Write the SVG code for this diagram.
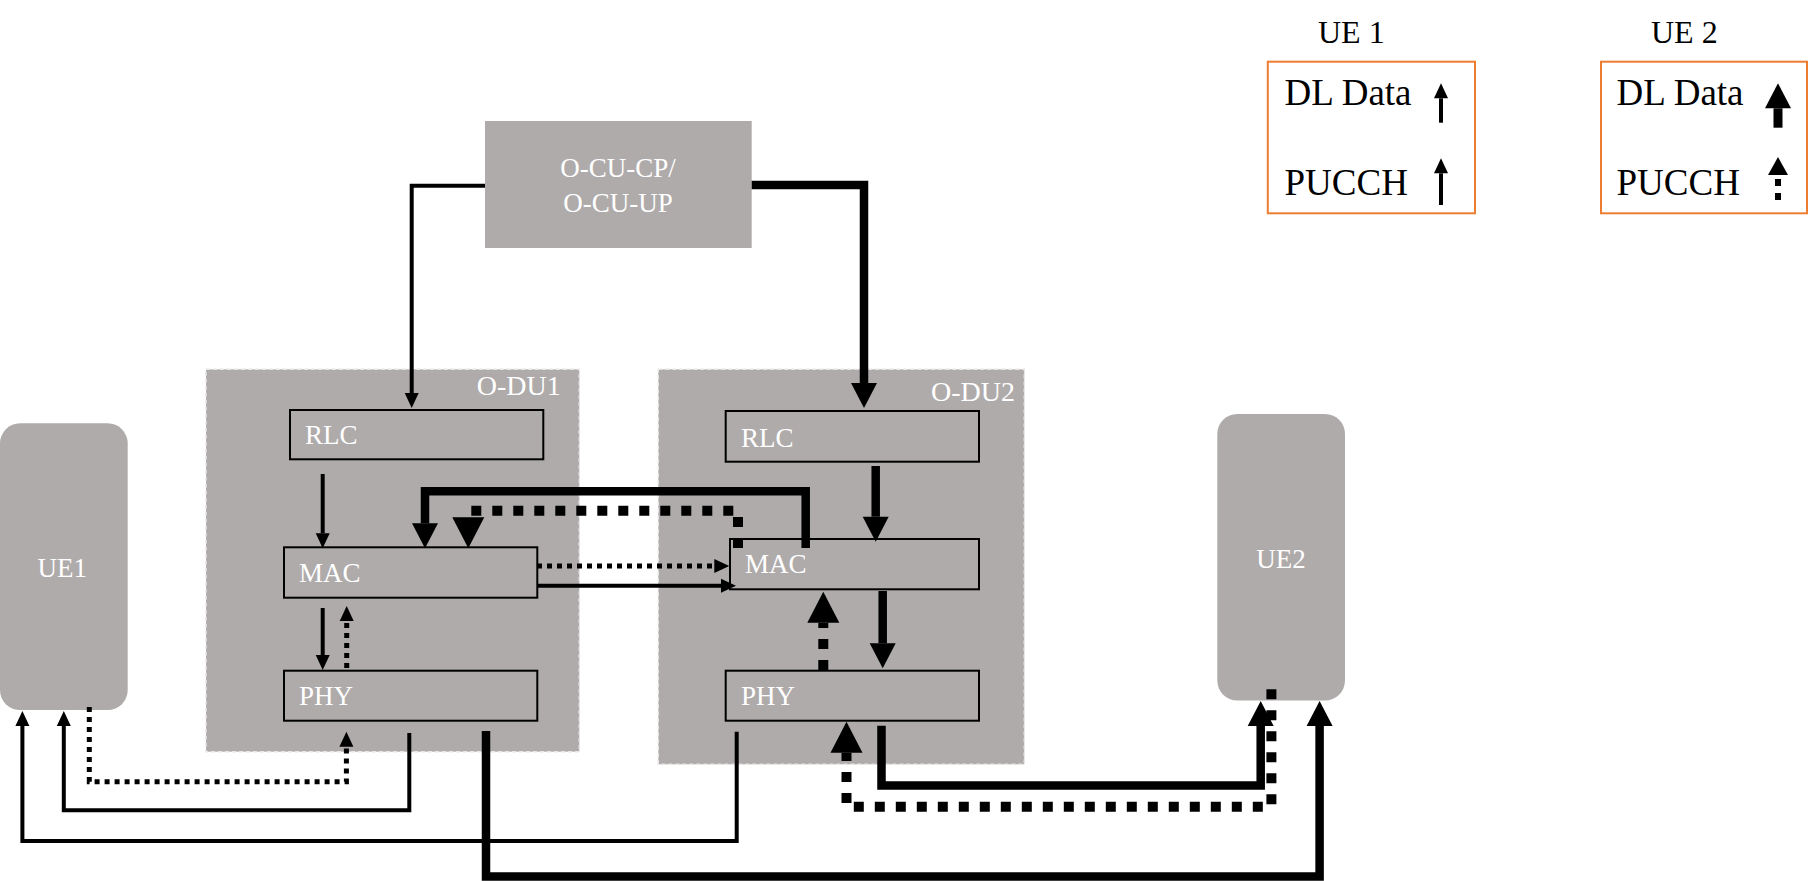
<svg xmlns="http://www.w3.org/2000/svg" width="1808" height="881" viewBox="0 0 1808 881">
<style>
text{font-family:"Liberation Serif","Times New Roman",serif;}
.lbl{fill:#ffffff;font-size:27px;}
.dul{fill:#ffffff;font-size:28px;}
.leg{fill:#000000;font-size:37px;}
.legt{fill:#000000;font-size:32px;}
.gray{fill:#AFABAB;}
.du{fill:#AFABAB;stroke:#E8E6E6;stroke-width:1.5;stroke-dasharray:4 3;}
.blk{fill:#AFABAB;stroke:#000000;stroke-width:2;}
.legbox{fill:#ffffff;stroke:#ED7D31;stroke-width:2;}
.c{fill:none;stroke:#000000;stroke-linejoin:miter;stroke-linecap:butt;}
.thin{stroke-width:4;}
.thick{stroke-width:8.5;}
.dot{stroke-width:5;stroke-dasharray:5 5;}
.dash{stroke-width:10;stroke-dasharray:10 11;}
</style>
<defs>
<marker id="ah-thin" markerUnits="userSpaceOnUse" markerWidth="15" markerHeight="14" refX="0" refY="7" orient="auto" overflow="visible"><path d="M0,0 L15,7 L0,14 z" fill="#000"/></marker>
<marker id="ah-thick" markerUnits="userSpaceOnUse" markerWidth="25" markerHeight="26" refX="0" refY="13" orient="auto" overflow="visible"><path d="M0,0 L25,13 L0,26 z" fill="#000"/></marker>
<marker id="ah-dash" markerUnits="userSpaceOnUse" markerWidth="31" markerHeight="32" refX="0" refY="16" orient="auto" overflow="visible"><path d="M0,0 L31,16 L0,32 z" fill="#000"/></marker>
<marker id="ah-leg" markerUnits="userSpaceOnUse" markerWidth="18" markerHeight="20" refX="0" refY="10" orient="auto" overflow="visible"><path d="M0,0 L18,10 L0,20 z" fill="#000"/></marker>
</defs>
<rect width="1808" height="881" fill="#ffffff"/>

<g id="ocu">
<rect class="gray" x="485" y="121" width="266.7" height="127"/>
<text class="lbl" x="618" y="177" text-anchor="middle">O-CU-CP/</text>
<text class="lbl" x="618" y="212" text-anchor="middle">O-CU-UP</text>
</g>

<g id="odu1">
<rect class="du" x="206" y="369.3" width="373.3" height="382.4"/>
<text class="dul" x="476.7" y="395">O-DU1</text>
</g>
<g id="odu2">
<rect class="du" x="658.3" y="369.3" width="366" height="395"/>
<text class="dul" x="931" y="400.7">O-DU2</text>
</g>

<g id="rlc1"><rect class="blk" x="290" y="410" width="253.3" height="49.3"/><text class="lbl" x="305" y="444">RLC</text></g>
<g id="mac1"><rect class="blk" x="284" y="547.3" width="253.3" height="50.4"/><text class="lbl" x="299" y="582.3">MAC</text></g>
<g id="phy1"><rect class="blk" x="284" y="670.7" width="253.3" height="50"/><text class="lbl" x="299" y="705">PHY</text></g>
<g id="rlc2"><rect class="blk" x="725.7" y="411" width="253.3" height="50.7"/><text class="lbl" x="741" y="446.7">RLC</text></g>
<g id="mac2"><rect class="blk" x="730" y="539" width="249" height="50.3"/><text class="lbl" x="745" y="573.3">MAC</text></g>
<g id="phy2"><rect class="blk" x="725.7" y="670.7" width="253.3" height="50"/><text class="lbl" x="741" y="705">PHY</text></g>

<g id="ue1">
<rect class="gray" x="0" y="423.3" width="127.7" height="286.7" rx="20" ry="20"/>
<text class="lbl" x="62.3" y="576.7" text-anchor="middle">UE1</text>
</g>
<g id="ue2">
<rect class="gray" x="1217.3" y="414" width="127.7" height="286.5" rx="20" ry="20"/>
<text class="lbl" x="1281" y="567.7" text-anchor="middle">UE2</text>
</g>

<g id="legend-ue1">
<text class="legt" x="1318" y="42.7">UE 1</text>
<rect class="legbox" x="1267.8" y="61.7" width="207.2" height="151.6"/>
<text class="leg" x="1284.5" y="105">DL Data</text>
<text class="leg" x="1284.5" y="195">PUCCH</text>
<path class="c thin" d="M1441,122.7 V98.3" marker-end="url(#ah-thin)"/>
<path class="c thin" d="M1441,205 V173.3" marker-end="url(#ah-thin)"/>
</g>
<g id="legend-ue2">
<text class="legt" x="1651" y="42.7">UE 2</text>
<rect class="legbox" x="1601" y="61.7" width="206" height="151.6"/>
<text class="leg" x="1616.5" y="105">DL Data</text>
<text class="leg" x="1616.5" y="195">PUCCH</text>
<path class="c" stroke-width="9" d="M1778,127.7 V108.3" marker-end="url(#ah-thick)"/>
<path class="c" stroke-width="6" stroke-dasharray="7 7" d="M1778,200 V175" marker-end="url(#ah-leg)"/>
</g>

<g id="connectors">
<path class="c thin" d="M485,185.7 H411.7 V393" marker-end="url(#ah-thin)"/>
<path class="c thick" d="M751.7,185 H864 V383" marker-end="url(#ah-thick)"/>
<path class="c thin" d="M322.7,474 V533.3" marker-end="url(#ah-thin)"/>
<path class="c thick" d="M875.7,466 V516.7" marker-end="url(#ah-thick)"/>
<path class="c thick" d="M805.7,548 V491.3 H425 V523.3" marker-end="url(#ah-thick)"/>
<path class="c dash" d="M738,548 V510.7 H468.3 V517.3" marker-end="url(#ah-dash)"/>
<path class="c dot" d="M537,566 H714.3" marker-end="url(#ah-thin)"/>
<path class="c thin" d="M537,585.7 H721" marker-end="url(#ah-thin)"/>
<path class="c thin" d="M322.7,608 V655" marker-end="url(#ah-thin)"/>
<path class="c dot" d="M346.7,668 V621" marker-end="url(#ah-thin)"/>
<path class="c thick" d="M882.7,591 V643.3" marker-end="url(#ah-thick)"/>
<path class="c dash" d="M823.3,670 V622.7" marker-end="url(#ah-dash)"/>
<path class="c thin" d="M409.3,733 V810.3 H63.8 V726" marker-end="url(#ah-thin)"/>
<path class="c thin" d="M736.7,731.7 V841 H22.4 V726" marker-end="url(#ah-thin)"/>
<path class="c dot" d="M89.3,707 V781.7 H346.4 V746.7" marker-end="url(#ah-thin)"/>
<path class="c thick" d="M486,731 V876.5 H1319.6 V726" marker-end="url(#ah-thick)"/>
<path class="c thick" d="M881.5,725.7 V785.5 H1260.7 V726" marker-end="url(#ah-thick)"/>
<path class="c dash" d="M1271.4,689.3 V806.7 H846.5 V752.7" marker-end="url(#ah-dash)"/>
</g>
</svg>
